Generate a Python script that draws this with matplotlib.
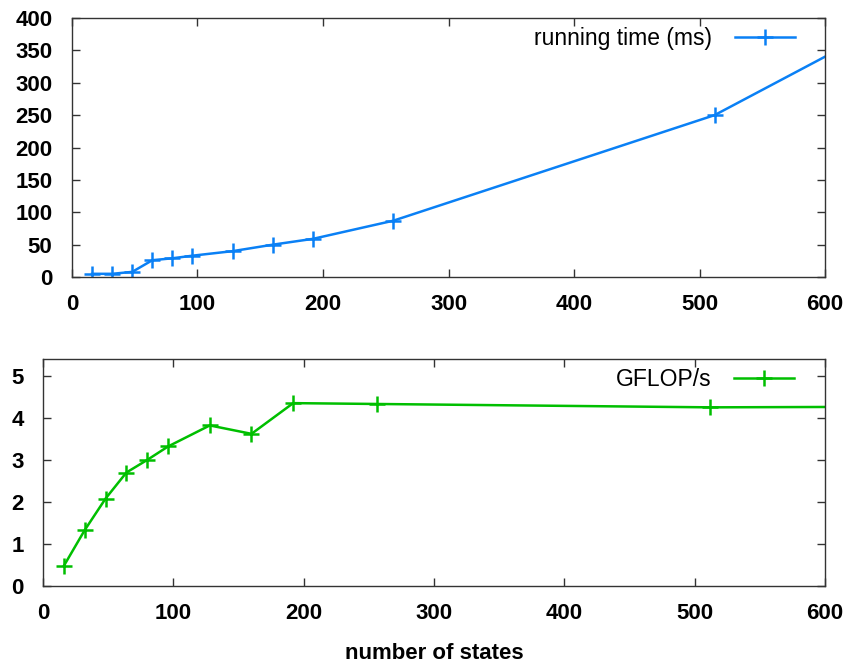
import numpy as np
import matplotlib
matplotlib.use('Agg')
import matplotlib.pyplot as plt

plt.rcParams['font.family'] = ['Liberation Sans', 'DejaVu Sans']

# data
states = [16, 32, 48, 64, 80, 96, 128, 160, 192, 256, 512, 1024]
run_ms = [5, 5, 8, 26, 29, 33, 40, 50, 59, 87, 250, 775]
gflops = [0.48, 1.33, 2.08, 2.70, 3.00, 3.32, 3.82, 3.62, 4.35, 4.33, 4.25, 4.30]

blue = '#0a80f5'
green = '#00bf00'

fig = plt.figure(figsize=(8.48, 6.66), dpi=100)
ax1 = fig.add_axes([0.0849, 0.584, 0.888, 0.389])
ax2 = fig.add_axes([0.0507, 0.120, 0.922, 0.341])

ax1.plot(states, run_ms, color=blue, lw=1.8, marker='+', ms=11, mew=1.8,
         label='running time (ms)')
ax2.plot(states, gflops, color=green, lw=1.8, marker='+', ms=11, mew=1.8,
         label='GFLOP/s')

ax1.set_xlim(0, 600)
ax1.set_ylim(0, 400)
ax1.set_yticks(np.arange(0, 401, 50))
ax2.set_xlim(0, 600)
ax2.set_ylim(0, 5.4)
ax2.set_yticks(np.arange(0, 6, 1))

for ax in (ax1, ax2):
    ax.set_xticks(np.arange(0, 601, 100))
    ax.tick_params(direction='in', top=True, right=True, length=6, width=1,
                   color='#333333', labelsize=16)
    ax.tick_params(axis='y', pad=14)
    ax.tick_params(axis='x', pad=12)
    for lab in ax.get_xticklabels() + ax.get_yticklabels():
        lab.set_fontweight('bold')
    for s in ax.spines.values():
        s.set_color('#333333')
        s.set_linewidth(1)
    ax.legend(loc='upper right', frameon=False, markerfirst=False,
              handlelength=2.6, handletextpad=1.0, fontsize=16.5,
              borderaxespad=0.2, borderpad=0.2,
              bbox_to_anchor=(0.972, 1.0))

ax2.set_xlabel('number of states', fontsize=16, fontweight='bold', labelpad=14)

fig.savefig('out.png', dpi=100)
